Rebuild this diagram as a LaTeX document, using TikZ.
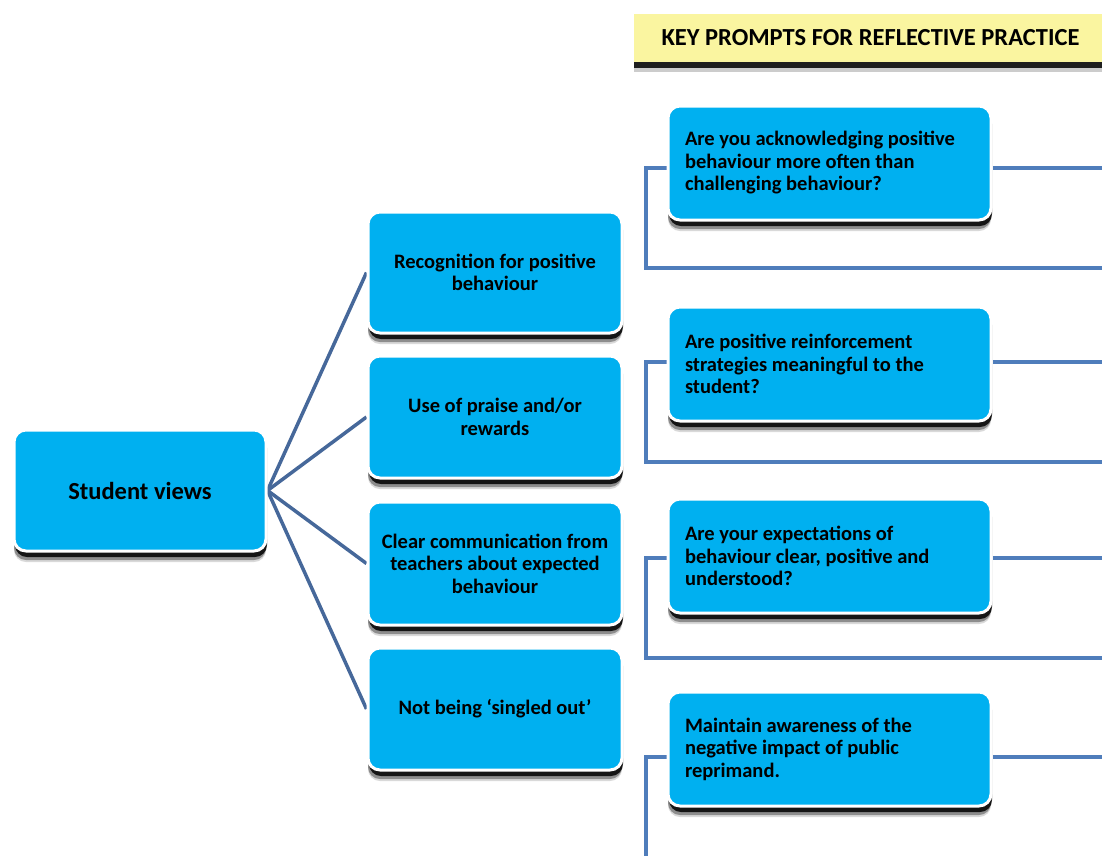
\documentclass[tikz,border=0pt]{standalone}
\usepackage{fontspec}
\setmainfont{Carlito}
\usetikzlibrary{shadows,backgrounds}
\definecolor{boxblue}{HTML}{00B0F0}
\definecolor{linkblue}{HTML}{46689A}
\definecolor{brblue}{HTML}{4F7DBB}
\definecolor{titley}{HTML}{FAF5A0}
\pgfdeclarelayer{paper}
\pgfsetlayers{paper,background,main}
\begin{document}
\begin{tikzpicture}[x=1pt,y=-1pt,
  box/.style={rectangle, rounded corners=12pt, fill=boxblue, draw=white, line width=3pt,
    drop shadow={shadow xshift=0pt, shadow yshift=-11pt, opacity=0.15, fill=black},
    drop shadow={shadow xshift=0pt, shadow yshift=-9pt, opacity=0.35, fill=black},
    drop shadow={shadow xshift=1pt, shadow yshift=-6pt, opacity=0.85, fill=black},
    font=\fontsize{20.5}{22.5}\selectfont\bfseries, text=black, inner sep=0pt},
  midbox/.style={box, minimum width=254pt, align=center},
  rbox/.style={box, minimum width=323pt, minimum height=114pt, align=flush left, text width=289pt},
  titlebox/.style={rectangle, fill=titley, minimum width=476pt, minimum height=48pt,
    drop shadow={shadow xshift=0pt, shadow yshift=-10pt, opacity=0.2, fill=black},
    drop shadow={shadow xshift=0pt, shadow yshift=-6pt, opacity=0.85, fill=black},
    font=\fontsize{24.5}{26}\selectfont\bfseries, text=black, inner sep=0pt},
  conn/.style={draw=linkblue, line width=3.5pt},
  brk/.style={draw=brblue, line width=3.5pt}]
\useasboundingbox (0,0) rectangle (1102,855);
\clip (0,0) rectangle (1102,855);
\begin{pgfonlayer}{paper}
\fill[white] (0,0) rectangle (1102,855);
\end{pgfonlayer}

\node[titlebox] (title) at (872,38) {KEY PROMPTS FOR REFLECTIVE PRACTICE\hspace*{3pt}};

\node[box, minimum width=252pt, minimum height=121pt, font=\fontsize{24.5}{28}\selectfont\bfseries] (sv) at (140,490.5) {Student views};

\node[midbox, minimum height=121pt] (m1) at (495,272.5) {Recognition for positive\\behaviour};
\node[midbox, minimum height=122pt] (m2) at (495,417) {Use of praise and/or\\rewards};
\node[midbox, minimum height=123pt] (m3) at (495,563.5) {Clear communication from\\teachers about expected\\behaviour};
\node[midbox, minimum height=122pt] (m4) at (495,709) {Not being ‘singled out’};

\node[rbox] (r1) at (829.5,163) {Are you acknowledging positive\\behaviour more often than\\challenging behaviour?};
\node[rbox] (r2) at (829.5,364) {Are positive reinforcement\\strategies meaningful to the\\student?};
\node[rbox] (r3) at (829.5,556) {Are your expectations of\\behaviour clear, positive and\\understood?};
\node[rbox] (r4) at (829.5,749) {Maintain awareness of the\\negative impact of public\\reprimand.};

\coordinate (k1) at (646,168); \coordinate (e1) at (1104,268); \coordinate (f1) at (1104,168);
\coordinate (k2) at (646,362); \coordinate (e2) at (1104,462); \coordinate (f2) at (1104,362);
\coordinate (k3) at (646,558); \coordinate (e3) at (1104,658); \coordinate (f3) at (1104,558);
\coordinate (k4) at (646,757); \coordinate (e4) at (1104,870); \coordinate (f4) at (1104,757);

\begin{scope}[on background layer]
\draw[conn] (sv.east) -- (m1.west);
\draw[conn] (sv.east) -- (m2.west);
\draw[conn] (sv.east) -- (m3.west);
\draw[conn] (sv.east) -- (m4.west);
\draw[brk] (r1.west |- k1) -- (k1) -- (k1 |- e1) -- (e1);
\draw[brk] (r1.east |- k1) -- (f1);
\draw[brk] (r2.west |- k2) -- (k2) -- (k2 |- e2) -- (e2);
\draw[brk] (r2.east |- k2) -- (f2);
\draw[brk] (r3.west |- k3) -- (k3) -- (k3 |- e3) -- (e3);
\draw[brk] (r3.east |- k3) -- (f3);
\draw[brk] (r4.west |- k4) -- (k4) -- (k4 |- e4);
\draw[brk] (r4.east |- k4) -- (f4);
\end{scope}
\end{tikzpicture}
\end{document}
